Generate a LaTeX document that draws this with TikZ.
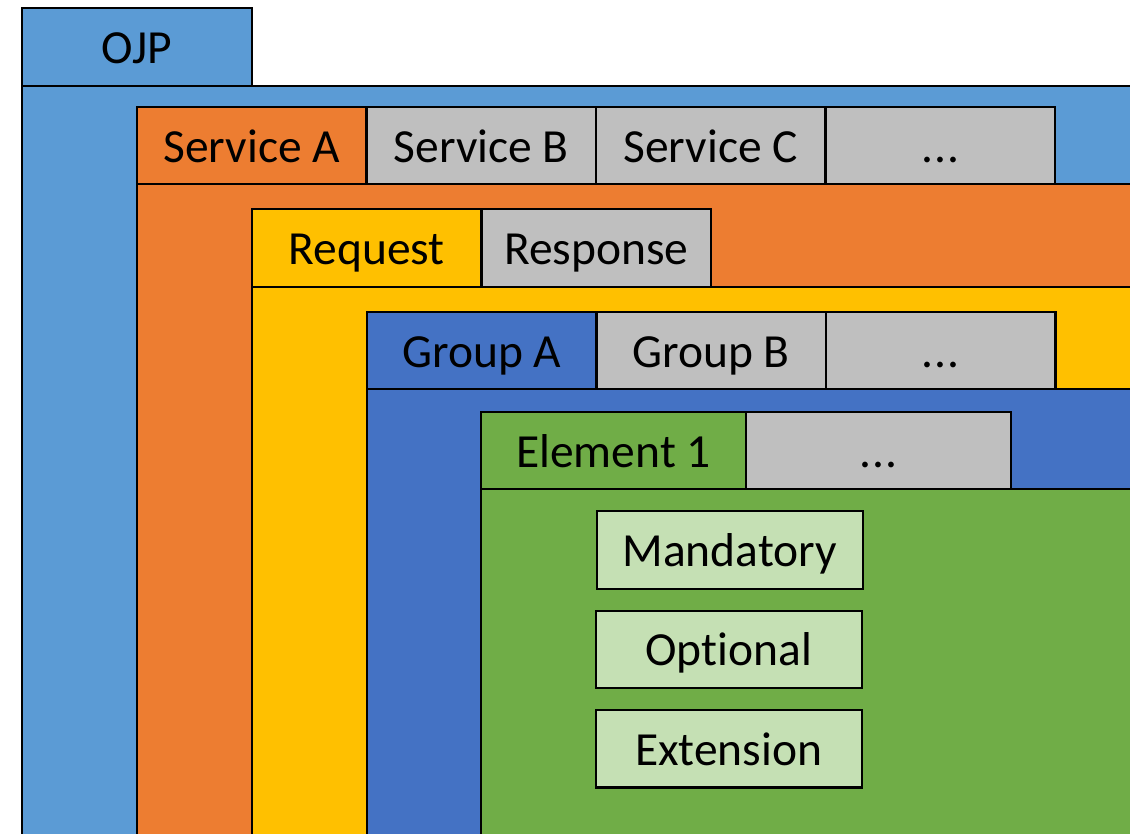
\documentclass[tikz,border=0pt]{standalone}
\usepackage{fontspec}
\setmainfont{Carlito}[Ligatures={NoCommon}]
\definecolor{ojpblue}{HTML}{5B9BD5}
\definecolor{svcorange}{HTML}{ED7D31}
\definecolor{reqyellow}{HTML}{FFC000}
\definecolor{grpblue}{HTML}{4472C4}
\definecolor{elgreen}{HTML}{70AD47}
\definecolor{tabgray}{HTML}{BFBFBF}
\definecolor{lightgreen}{HTML}{C5E0B4}
\tikzset{
  frame/.style={draw=black, line width=2.2pt},
  tabbox/.style={draw=black, line width=2.2pt, anchor=north west, inner sep=0pt, outer sep=0pt,
    minimum height=77pt, text height=33pt, text depth=0pt,
    font=\fontsize{47.5}{50}\selectfont, text=black},
}
\begin{document}
\begin{tikzpicture}[x=1pt,y=-1pt]
\useasboundingbox (0,0) rectangle (1130,833);
\clip (0,0) rectangle (1130,833);
% level 1: OJP
\fill[white] (0,0) rectangle (1130,833);
\draw[frame, fill=ojpblue] (22,86) rectangle (1150,850);
\node[tabbox, fill=ojpblue, minimum width=230pt, minimum height=78pt] (ojp) at (22,8) {OJP};
% level 2: services
\draw[frame, fill=svcorange] (137,184) rectangle (1150,850);
\node[tabbox, fill=svcorange, minimum width=229.5pt] (sa) at (137,107) {Service A};
\node[tabbox, fill=tabgray, minimum width=229.5pt] (sb) at (sa.north east) {Service B};
\node[tabbox, fill=tabgray, minimum width=229.5pt] (sc) at (sb.north east) {Service C};
\node[tabbox, fill=tabgray, minimum width=229.5pt] (sd) at (sc.north east) {.\kern1pt.\kern1pt.};
% level 3: request / response
\draw[frame, fill=reqyellow] (252,287) rectangle (1150,850);
\node[tabbox, fill=reqyellow, minimum width=229.5pt, minimum height=78pt] (req) at (252,209) {Request};
\node[tabbox, fill=tabgray, minimum width=229.5pt, minimum height=78pt] (resp) at (req.north east) {Response};
% level 4: groups
\draw[frame, fill=grpblue] (367,389) rectangle (1150,850);
\node[tabbox, fill=grpblue, minimum width=229.5pt, minimum height=77pt] (ga) at (367,312) {Group A};
\node[tabbox, fill=tabgray, minimum width=229.5pt, minimum height=77pt] (gb) at (ga.north east) {Group B};
\node[tabbox, fill=tabgray, minimum width=229.5pt, minimum height=77pt] (gc) at (gb.north east) {.\kern1pt.\kern1pt.};
% level 5: elements
\draw[frame, fill=elgreen] (481,489) rectangle (1150,850);
\node[tabbox, fill=elgreen, minimum width=265pt, minimum height=77pt] (e1) at (481,412) {Element 1};
\node[tabbox, fill=tabgray, minimum width=265pt, minimum height=77pt] (e2) at (e1.north east) {.\kern1pt.\kern1pt.};
% inner boxes
\node[tabbox, fill=lightgreen, minimum width=266pt, minimum height=77.5pt] (mand) at (596.7,511.3) {Mandatory};
\node[tabbox, fill=lightgreen, minimum width=266pt, minimum height=77.5pt] (opt) at (595.7,610.7) {Optional};
\node[tabbox, fill=lightgreen, minimum width=266pt, minimum height=77.5pt] (ext) at (595.7,710) {Extension};
\end{tikzpicture}
\end{document}
